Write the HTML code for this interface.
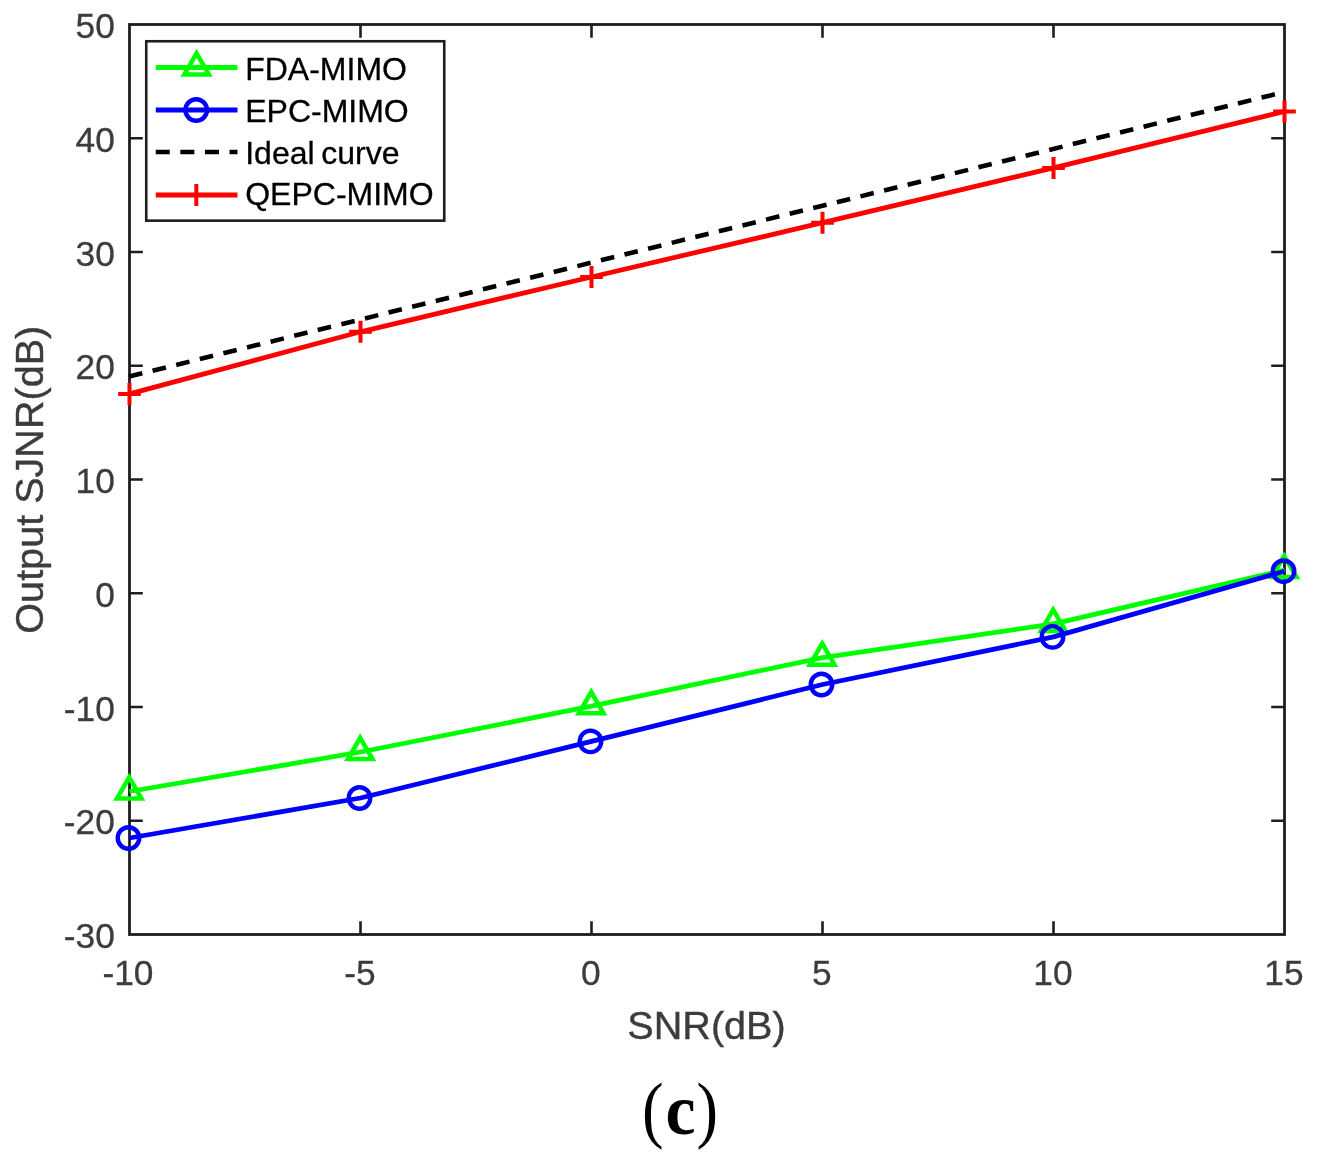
<!DOCTYPE html>
<html lang="en"><head><meta charset="utf-8"><title>Output SJNR versus SNR (c)</title>
<style>html,body{margin:0;padding:0;background:#fff}svg{display:block}text{font-family:"Liberation Sans",Arial,Helvetica,sans-serif}.cap text{font-family:"Liberation Serif","Times New Roman",serif}</style></head><body>
<svg width="1320" height="1157" viewBox="0 0 1320 1157">
<rect width="1320" height="1157" fill="#fff"/>
<rect x="129.5" y="24.5" width="1155.0" height="910.0" fill="none" stroke="#1e1e1e" stroke-width="2.8"/>
<path d="M360.50 934.5v-13.3M360.50 24.5v13.3M591.50 934.5v-13.3M591.50 24.5v13.3M822.50 934.5v-13.3M822.50 24.5v13.3M1053.50 934.5v-13.3M1053.50 24.5v13.3M129.5 820.75h13.3M1284.5 820.75h-13.3M129.5 707.00h13.3M1284.5 707.00h-13.3M129.5 593.25h13.3M1284.5 593.25h-13.3M129.5 479.50h13.3M1284.5 479.50h-13.3M129.5 365.75h13.3M1284.5 365.75h-13.3M129.5 252.00h13.3M1284.5 252.00h-13.3M129.5 138.25h13.3M1284.5 138.25h-13.3" fill="none" stroke="#1e1e1e" stroke-width="2.6"/>
<g font-size="35.3" fill="#3c3c3c" stroke="#3c3c3c" stroke-width="0.3">
<text x="114.8" y="948.00" text-anchor="end">-30</text>
<text x="114.8" y="834.25" text-anchor="end">-20</text>
<text x="114.8" y="720.50" text-anchor="end">-10</text>
<text x="114.8" y="606.75" text-anchor="end">0</text>
<text x="114.8" y="493.00" text-anchor="end">10</text>
<text x="114.8" y="379.25" text-anchor="end">20</text>
<text x="114.8" y="265.50" text-anchor="end">30</text>
<text x="114.8" y="151.75" text-anchor="end">40</text>
<text x="114.8" y="38.00" text-anchor="end">50</text>
<text x="127.90" y="985.0" text-anchor="middle">-10</text>
<text x="359.90" y="985.0" text-anchor="middle">-5</text>
<text x="590.90" y="985.0" text-anchor="middle">0</text>
<text x="821.90" y="985.0" text-anchor="middle">5</text>
<text x="1052.90" y="985.0" text-anchor="middle">10</text>
<text x="1283.90" y="985.0" text-anchor="middle">15</text>
</g>
<text x="706.5" y="1038.5" font-size="39.6" fill="#3c3c3c" stroke="#3c3c3c" stroke-width="0.4" text-anchor="middle">SNR(dB)</text>
<text transform="translate(42.8 479.7) rotate(-90)" font-size="39.6" fill="#3c3c3c" stroke="#3c3c3c" stroke-width="0.4" text-anchor="middle">Output SJNR(dB)</text>
<polyline points="129.50,791.50 360.50,752.00 591.50,706.20 822.50,657.60 1053.50,623.90 1284.50,570.00" fill="none" stroke="#00ff00" stroke-width="4.8" stroke-linejoin="round"/>
<path d="M129.20 777.30L141.50 798.60L116.90 798.60Z" fill="none" stroke="#00ff00" stroke-width="4.5" stroke-linejoin="miter"/>
<path d="M360.20 737.80L372.50 759.10L347.90 759.10Z" fill="none" stroke="#00ff00" stroke-width="4.5" stroke-linejoin="miter"/>
<path d="M591.20 692.00L603.50 713.30L578.90 713.30Z" fill="none" stroke="#00ff00" stroke-width="4.5" stroke-linejoin="miter"/>
<path d="M822.20 643.40L834.50 664.70L809.90 664.70Z" fill="none" stroke="#00ff00" stroke-width="4.5" stroke-linejoin="miter"/>
<path d="M1053.20 609.70L1065.50 631.00L1040.90 631.00Z" fill="none" stroke="#00ff00" stroke-width="4.5" stroke-linejoin="miter"/>
<path d="M1284.20 555.80L1296.50 577.10L1271.90 577.10Z" fill="none" stroke="#00ff00" stroke-width="4.5" stroke-linejoin="miter"/>
<polyline points="129.50,838.00 360.50,798.00 591.50,741.40 822.50,684.50 1053.50,636.90 1284.50,571.20" fill="none" stroke="#0000ff" stroke-width="4.8" stroke-linejoin="round"/>
<circle cx="128.50" cy="838.00" r="10.75" fill="none" stroke="#0000ff" stroke-width="4.4"/>
<circle cx="359.50" cy="798.00" r="10.75" fill="none" stroke="#0000ff" stroke-width="4.4"/>
<circle cx="590.50" cy="741.40" r="10.75" fill="none" stroke="#0000ff" stroke-width="4.4"/>
<circle cx="821.50" cy="684.50" r="10.75" fill="none" stroke="#0000ff" stroke-width="4.4"/>
<circle cx="1052.50" cy="636.90" r="10.75" fill="none" stroke="#0000ff" stroke-width="4.4"/>
<circle cx="1283.50" cy="571.20" r="10.75" fill="none" stroke="#0000ff" stroke-width="4.4"/>
<path d="M129.0 376.52L1284.5 91.95" fill="none" stroke="#000" stroke-width="4.6" stroke-dasharray="13.7 10.6"/>
<polyline points="129.50,393.90 360.50,331.80 591.50,277.00 822.50,222.70 1053.50,167.90 1284.50,111.40" fill="none" stroke="#ff0000" stroke-width="4.8" stroke-linejoin="round"/>
<path d="M118.20 393.90h22.6M129.50 382.90v22" fill="none" stroke="#ff0000" stroke-width="4.0"/>
<path d="M349.20 331.80h22.6M360.50 320.80v22" fill="none" stroke="#ff0000" stroke-width="4.0"/>
<path d="M580.20 277.00h22.6M591.50 266.00v22" fill="none" stroke="#ff0000" stroke-width="4.0"/>
<path d="M811.20 222.70h22.6M822.50 211.70v22" fill="none" stroke="#ff0000" stroke-width="4.0"/>
<path d="M1042.20 167.90h22.6M1053.50 156.90v22" fill="none" stroke="#ff0000" stroke-width="4.0"/>
<path d="M1273.20 111.40h22.6M1284.50 100.40v22" fill="none" stroke="#ff0000" stroke-width="4.0"/>
<rect x="146.25" y="41.25" width="298" height="179.4" fill="#fff" stroke="#1e1e1e" stroke-width="2.6"/>
<path d="M155.75 67.5H237.5" stroke="#00ff00" stroke-width="4.8"/>
<path d="M196.60 53.30L208.90 74.60L184.30 74.60Z" fill="none" stroke="#00ff00" stroke-width="4.5" stroke-linejoin="miter"/>
<path d="M155.75 110.0H237.5" stroke="#0000ff" stroke-width="4.8"/>
<circle cx="196.20" cy="110.00" r="10.75" fill="none" stroke="#0000ff" stroke-width="4.4"/>
<path d="M155.75 152.0H237.5" stroke="#000" stroke-width="4.6" stroke-dasharray="14 10.6"/>
<path d="M155.75 195.0H237.5" stroke="#ff0000" stroke-width="4.8"/>
<path d="M185.00 195.00h22.6M196.30 184.00v22" fill="none" stroke="#ff0000" stroke-width="4.0"/>
<g font-size="32" fill="#000" stroke="#000" stroke-width="0.3">
<text x="245.2" y="79.8">FDA-MIMO</text>
<text x="245.2" y="121.9">EPC-MIMO</text>
<text x="245.2" y="163.9" word-spacing="-2.2">Ideal curve</text>
<text x="245.2" y="205.3">QEPC-MIMO</text>
</g>
<g class="cap" font-size="72" fill="#000">
<text transform="translate(642.0 1133.8) scale(0.90 1.025)">(</text>
<text transform="translate(665.5 1133.5) scale(0.94 1)" font-weight="bold">c</text>
<text transform="translate(696.4 1133.8) scale(0.90 1.025)">)</text>
</g>
</svg></body></html>
